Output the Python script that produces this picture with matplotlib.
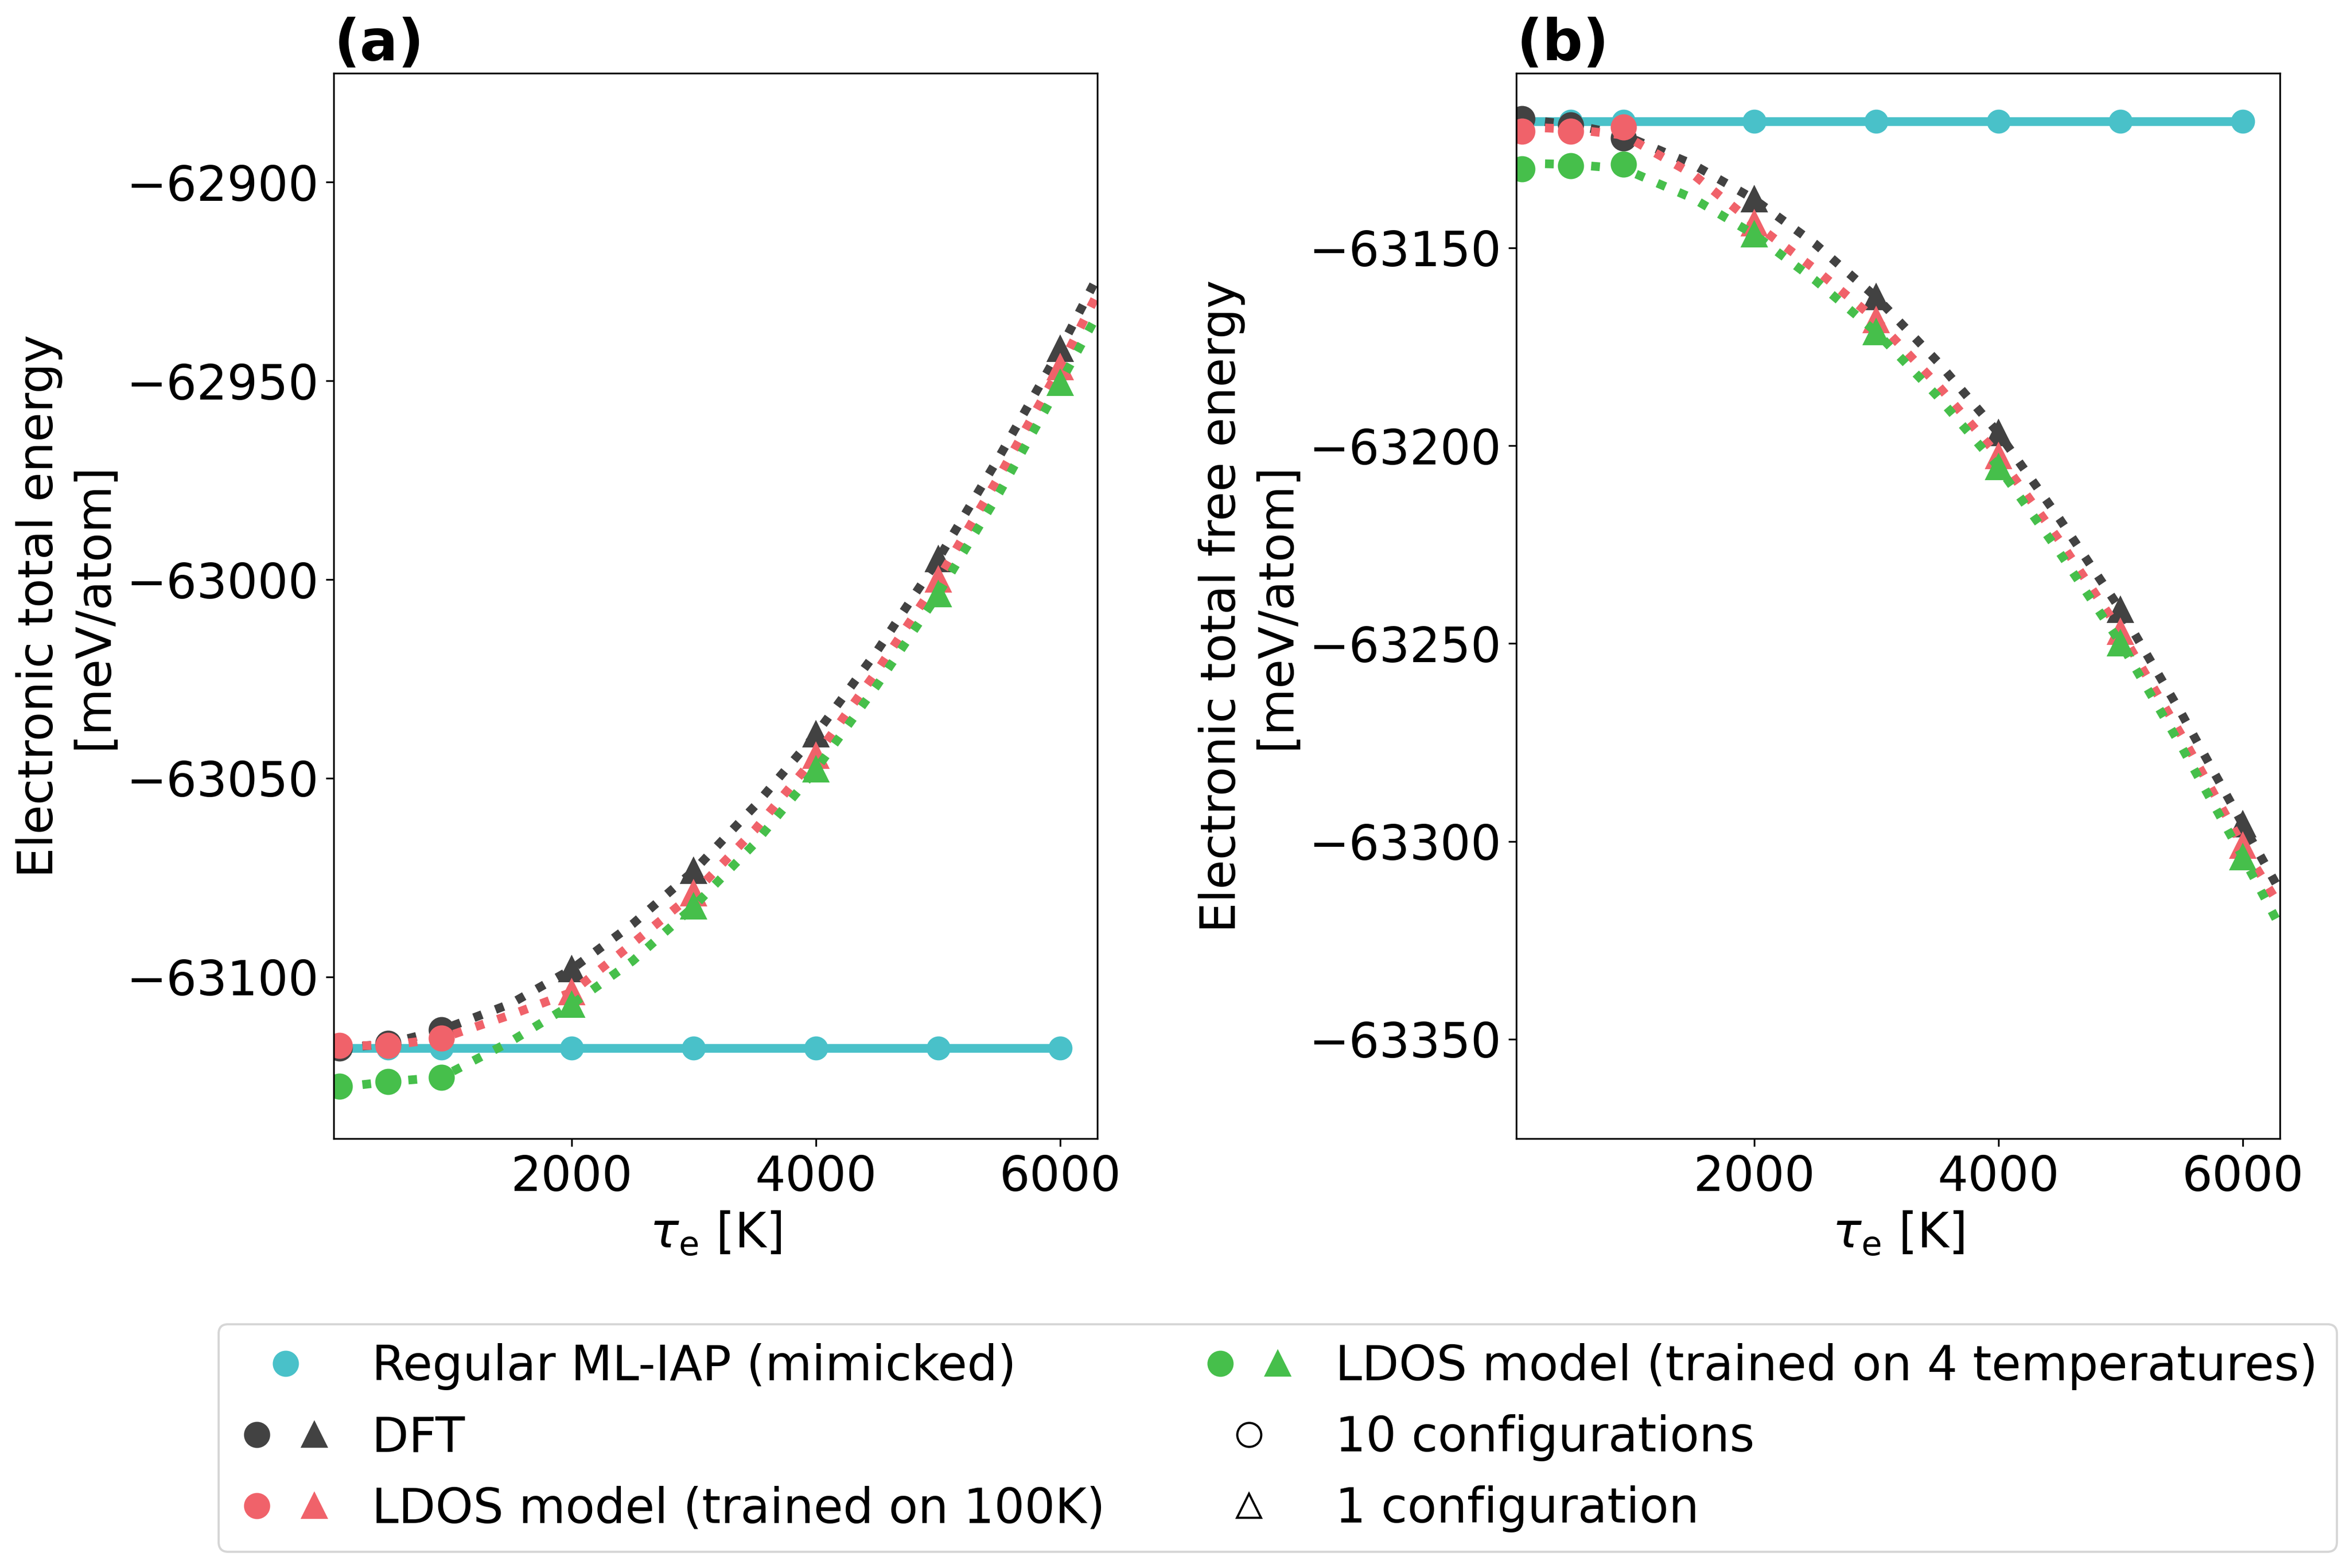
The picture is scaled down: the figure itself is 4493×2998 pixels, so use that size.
import matplotlib
matplotlib.use('Agg')
import matplotlib.pyplot as plt
from matplotlib.lines import Line2D
from matplotlib.legend_handler import HandlerTuple

# Temperaturas (K)
T_circ = [100, 500, 933]                 # 10 configurations
T_tri = [2000, 3000, 4000, 5000, 6000]   # 1 configuration
T_all = [100, 500, 933, 2000, 3000, 4000, 5000, 6000]
T_line = [100, 500, 933, 1500, 2000, 2500, 3000, 3500, 4000, 4500, 5000, 5500, 6000, 6304]

# (a) Electronic total energy [meV/atom]
mliap_a = [-63118.0] * 8
dft_a_circ = [-63118.0, -63116.8, -63113.4]
dft_a_tri = [-63098.1, -63073.3, -63038.9, -62994.9, -62942.0]
red_a_circ = [-63117.3, -63117.3, -63115.5]
red_a_tri = [-63103.9, -63079.0, -63044.4, -63000.0, -62946.5]
green_a_circ = [-63127.5, -63126.4, -63125.3]
green_a_tri = [-63107.0, -63082.3, -63047.8, -63003.7, -62950.5]
dft_a_line = [-63118.0, -63116.8, -63113.4, -63106.8, -63098.1, -63086.7, -63073.3,
              -63057.0, -63038.9, -63018.0, -62994.9, -62969.1, -62942.0, -62923.8]
red_a_line = [-63117.3, -63117.3, -63115.5, -63109.6, -63103.9, -63091.6, -63079.0,
              -63063.0, -63044.4, -63023.0, -63000.0, -62974.0, -62946.5, -62928.0]
green_a_line = [-63127.8, -63126.4, -63125.3, -63116.3, -63107.0, -63096.0, -63082.3,
                -63066.4, -63047.8, -63026.6, -63003.7, -62978.2, -62950.5, -62933.3]

# (b) Electronic total free energy [meV/atom]
mliap_b = [-63118.0] * 8
dft_b_circ = [-63117.3, -63119.0, -63122.2]
dft_b_tri = [-63137.7, -63162.5, -63196.8, -63241.5, -63295.7]
red_b_circ = [-63120.5, -63120.5, -63119.5]
red_b_tri = [-63143.8, -63168.2, -63202.6, -63247.0, -63301.1]
green_b_circ = [-63130.1, -63129.2, -63128.9]
green_b_tri = [-63146.6, -63171.3, -63205.4, -63249.9, -63304.0]
dft_b_line = [-63117.5, -63118.8, -63121.5, -63128.9, -63137.7, -63149.0, -63162.5,
              -63178.7, -63196.8, -63218.5, -63241.5, -63267.8, -63295.7, -63312.5]
red_b_line = [-63119.4, -63120.0, -63121.5, -63131.4, -63143.8, -63155.4, -63168.2,
              -63184.6, -63202.6, -63224.0, -63247.0, -63273.3, -63301.1, -63316.5]
green_b_line = [-63128.6, -63128.9, -63130.0, -63137.5, -63146.6, -63158.2, -63171.3,
                -63187.5, -63205.4, -63227.0, -63249.9, -63276.2, -63304.0, -63321.5]

# Cores
c_mliap = '#49c1c9'
c_dft = '#424242'
c_red = '#f0626a'
c_green = '#46bf4b'

tick_fs = 22
label_fs = 22
legend_fs = 22
title_fs = 26
ms = 11
lw = 4

fig = plt.figure(figsize=(4493 / 300, 2998 / 300), dpi=300)
ax1 = fig.add_axes([0.1421, 0.2739, 0.3249, 0.6793])
ax2 = fig.add_axes([0.6453, 0.2739, 0.3249, 0.6793])


def painel(ax, mliap, dft_l, dft_c, dft_t, red_l, red_c, red_t, grn_l, grn_c, grn_t):
    ax.plot(T_all, mliap, '-o', color=c_mliap, lw=lw, ms=ms - 1)
    for line, circ, tri, c in [(dft_l, dft_c, dft_t, c_dft),
                               (red_l, red_c, red_t, c_red),
                               (grn_l, grn_c, grn_t, c_green)]:
        ax.plot(T_line, line, ':', color=c, lw=lw)
        ax.plot(T_circ, circ, 'o', color=c, ms=ms)
        ax.plot(T_tri, tri, '^', color=c, ms=ms)
    ax.set_xlim(55, 6304)
    ax.set_xticks([2000, 4000, 6000])
    ax.tick_params(labelsize=tick_fs)
    ax.set_xlabel(r'$\tau_{\mathrm{e}}$ [K]', fontsize=label_fs)


painel(ax1, mliap_a, dft_a_line, dft_a_circ, dft_a_tri, red_a_line, red_a_circ, red_a_tri,
       green_a_line, green_a_circ, green_a_tri)
ax1.set_ylim(-63140.7, -62872.6)
ax1.set_ylabel('Electronic total energy\n[meV/atom]', fontsize=label_fs)
ax1.set_title('(a)', loc='left', fontweight='bold', fontsize=title_fs)

painel(ax2, mliap_b, dft_b_line, dft_b_circ, dft_b_tri, red_b_line, red_b_circ, red_b_tri,
       green_b_line, green_b_circ, green_b_tri)
ax2.set_ylim(-63375.1, -63105.9)
ax2.set_ylabel('Electronic total free energy\n[meV/atom]', fontsize=label_fs)
ax2.set_title('(b)', loc='left', fontweight='bold', fontsize=title_fs)

# Legenda
def mk(m, c, fill=True):
    return Line2D([], [], ls='none', marker=m, color=c, ms=ms,
                  markerfacecolor=c if fill else 'none', markeredgewidth=1)

handles = [mk('o', c_mliap),
           (mk('o', c_dft), mk('^', c_dft)),
           (mk('o', c_red), mk('^', c_red)),
           (mk('o', c_green), mk('^', c_green)),
           mk('o', 'black', fill=False),
           mk('^', 'black', fill=False)]
labels = ['Regular ML-IAP (mimicked)', 'DFT', 'LDOS model (trained on 100K)',
          'LDOS model (trained on 4 temperatures)', '10 configurations', '1 configuration']
fig.legend(handles, labels, ncol=2, loc='upper left', bbox_to_anchor=(0.093, 0.1555),
           borderaxespad=0, fontsize=legend_fs,
           handler_map={tuple: HandlerTuple(ndivide=None)})

fig.savefig('out.png', dpi=300)
